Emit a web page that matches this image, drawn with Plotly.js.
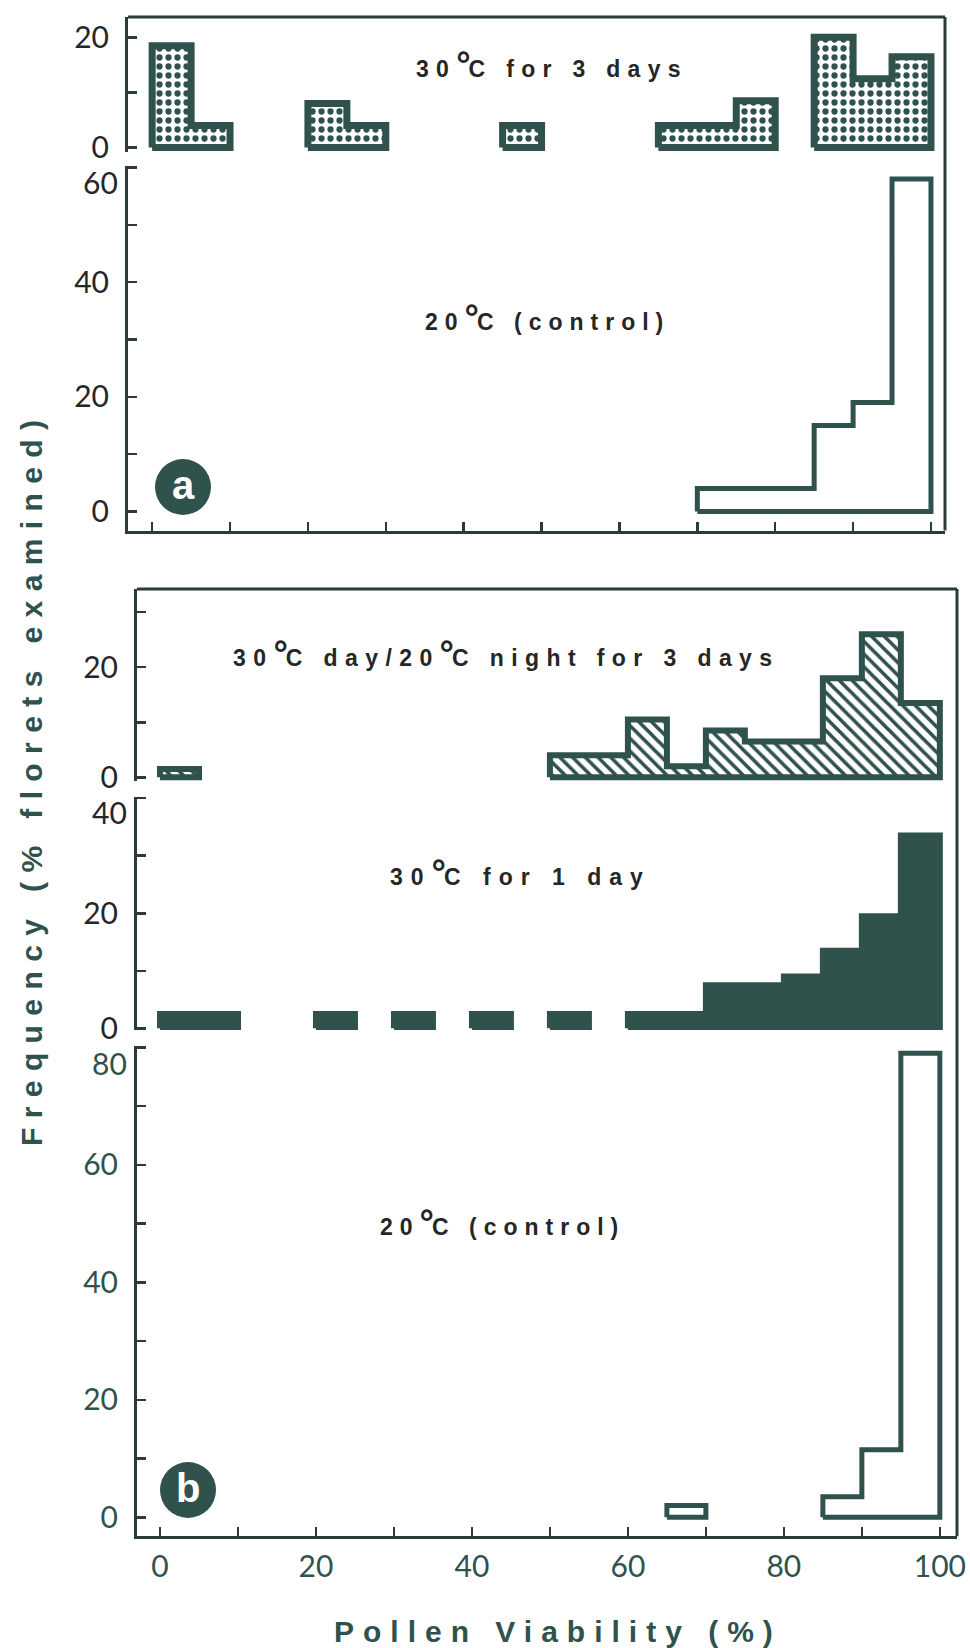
<!DOCTYPE html>
<html>
<head>
<meta charset="utf-8">
<script src="https://cdn.plot.ly/plotly-3.0.1.min.js"></script>
<style>
  html, body { margin: 0; padding: 0; background: #ffffff; }
  #chart { width: 970px; height: 1648px; }
</style>
</head>
<body>
<div id="chart"></div>
<script>
// ---------------- DATA (frequency, % florets examined, per 5% pollen-viability class) ----------------
const binStart = [0, 5, 10, 15, 20, 25, 30, 35, 40, 45, 50, 55, 60, 65, 70, 75, 80, 85, 90, 95];
const binWidth = 5;

// panel a
const heat30For3Days = [18.5, 4, null, null, 8, 4, null, null, null, 4, null, null, null, 4, 4, 8.5, null, 20, 12.5, 16.5];
const controlA20     = [null, null, null, null, null, null, null, null, null, null, null, null, null, null, 4, 4, 4, 15, 19, 58];

// panel b
const dayNight3Days  = [1.5, null, null, null, null, null, null, null, null, null, 4, 4, 10.5, 2, 8.5, 6.5, 6.5, 18, 26, 13.5];
const heat30For1Day  = [2.5, 2.5, null, null, 2.5, null, 2.5, null, 2.5, null, 2.5, null, 2.5, 2.5, 7.5, 7.5, 9, 13.5, 19.5, 33.5];
const controlB20     = [null, null, null, null, null, null, null, null, null, null, null, null, null, 2, null, null, null, 3.5, 11.5, 79];

// tick labels of each frequency axis (the top one of a stacked axis sits just under its tick)
const ticksA1 = [0, 20];
const ticksA2 = [0, 20, 40];      const topLabelA2 = '60';
const ticksB1 = [0, 20];
const ticksB2 = [0, 20];          const topLabelB2 = '40';
const ticksB3 = [0, 20, 40, 60];  const topLabelB3 = '80';
const ticksX  = [0, 20, 40, 60, 80, 100];

// labels
const panelLabels = ['a', 'b'];
const seriesLabels = {
  heatA: '30°C for 3 days',
  ctrlA: '20°C (control)',
  dayNight: '30°C day/20°C night for 3 days',
  heat1: '30°C for 1 day',
  ctrlB: '20°C (control)'
};
const xTitle = 'Pollen Viability (%)';
const yTitle = 'Frequency (% florets examined)';

// ---------------- STYLE ----------------
const W = 970, H = 1648;
const TEAL = '#2f524d';
const AX = '#2a3b38';
const DARK = '#262626';
const px = v => v / W;
const py = v => 1 - v / H;

// closed step outlines (one closed segment per run of occupied classes)
function stepOutline(values) {
  const xs = [], ys = [];
  let runStart = null;
  for (let i = 0; i <= values.length; i++) {
    const v = i < values.length ? values[i] : null;
    if (v !== null && v !== undefined) {
      const l = binStart[i], r = l + binWidth;
      if (runStart === null) { runStart = l; xs.push(l); ys.push(0); }
      xs.push(l, r); ys.push(v, v);
    } else if (runStart !== null) {
      const end = binStart[i - 1] + binWidth;
      xs.push(end, runStart, null); ys.push(0, 0, null);
      runStart = null;
    }
  }
  return { x: xs, y: ys };
}

function histTrace(values, xa, ya, opts) {
  const o = stepOutline(values);
  return Object.assign({
    type: 'scatter', mode: 'lines', x: o.x, y: o.y, xaxis: xa, yaxis: ya,
    fill: 'toself', hoverinfo: 'skip', connectgaps: false
  }, opts);
}

const traces = [
  histTrace(heat30For3Days, 'x', 'y', {
    fillcolor: 'white',
    fillpattern: { shape: '.', fgcolor: TEAL, bgcolor: 'white', size: 9, solidity: 0.38 },
    line: { color: TEAL, width: 7 }
  }),
  histTrace(controlA20, 'x', 'y2', {
    fillcolor: 'rgba(0,0,0,0)', line: { color: TEAL, width: 5 }
  }),
  histTrace(dayNight3Days, 'x2', 'y3', {
    fillcolor: 'white',
    fillpattern: { shape: '\\', fgcolor: TEAL, bgcolor: 'white', size: 9, solidity: 0.4 },
    line: { color: TEAL, width: 6 }
  }),
  histTrace(heat30For1Day, 'x2', 'y4', {
    fillcolor: TEAL, line: { color: TEAL, width: 6 }
  }),
  histTrace(controlB20, 'x2', 'y5', {
    fillcolor: 'rgba(0,0,0,0)', line: { color: TEAL, width: 5 }
  })
];

const baseAxis = {
  showline: true, linecolor: AX, linewidth: 3, zeroline: false, showgrid: false,
  ticks: 'inside', ticklen: 9, tickwidth: 2.5, tickcolor: AX, fixedrange: true
};
const minor10 = { dtick: 10, tick0: 0, ticks: 'inside', ticklen: 9, tickwidth: 2.5, tickcolor: AX };
const tickFontDark = { family: 'Lato, sans-serif', size: 30, color: DARK };
const tickFontTeal = { family: 'Lato, sans-serif', size: 30, color: TEAL };

function yAxis(top, bottom, range, anchor, vals, font) {
  return Object.assign({}, baseAxis, {
    domain: [py(bottom), py(top)], range: range, anchor: anchor,
    tickmode: 'array', tickvals: vals, ticktext: vals.map(String), minor: minor10,
    tickfont: font, ticklabelstandoff: 10
  });
}

function annot(text, cx, cy, spacing) {
  return {
    xref: 'paper', yref: 'paper', x: px(cx), y: py(cy), xanchor: 'center', yanchor: 'middle',
    showarrow: false,
    text: '<span style="letter-spacing:' + spacing + 'px">' +
          text.replace(/°/g, '<span style="font-size:36px;letter-spacing:-2px">°</span>') + '</span>',
    font: { family: 'Liberation Sans, Arial, sans-serif', size: 23, color: DARK, weight: 700 }
  };
}

function topTickLabel(text, axisX, cy, font) {
  return {
    xref: 'paper', yref: 'paper', x: px(axisX - 8), y: py(cy), xanchor: 'right', yanchor: 'middle',
    showarrow: false, text: text, font: font
  };
}

const layout = {
  width: W, height: H, autosize: false,
  margin: { l: 0, r: 0, t: 0, b: 0, pad: 0 },
  paper_bgcolor: '#ffffff', plot_bgcolor: 'rgba(0,0,0,0)',
  showlegend: false,
  xaxis: Object.assign({}, baseAxis, {
    domain: [px(128), px(945)], range: [-3.1, 101.8], anchor: 'y2',
    tickmode: 'linear', tick0: 0, dtick: 10, showticklabels: false
  }),
  xaxis2: Object.assign({}, baseAxis, {
    domain: [px(137), px(957)], range: [-2.95, 102.2], anchor: 'y5',
    tickmode: 'array', tickvals: ticksX, ticktext: ticksX.map(String), minor: minor10,
    tickfont: tickFontTeal, ticklabelstandoff: 2
  }),
  yaxis:  yAxis(17, 152, [-0.82, 23.7], 'x', ticksA1, tickFontDark),
  yaxis2: yAxis(166, 530.5, [-3.31, 60.26], 'x', ticksA2, tickFontDark),
  yaxis3: yAxis(589, 781, [-0.67, 34.2], 'x2', ticksB1, tickFontDark),
  yaxis4: yAxis(796.5, 1030, [-0.3, 40.3], 'x2', ticksB2, tickFontDark),
  yaxis5: yAxis(1045.5, 1536.3, [-3.23, 80.3], 'x2', ticksB3, tickFontTeal),
  shapes: [
    { type: 'line', xref: 'paper', yref: 'paper', x0: px(128), x1: px(945), y0: py(17), y1: py(17), line: { color: AX, width: 3 } },
    { type: 'line', xref: 'paper', yref: 'paper', x0: px(945), x1: px(945), y0: py(17), y1: py(530.5), line: { color: AX, width: 3 } },
    { type: 'line', xref: 'paper', yref: 'paper', x0: px(137), x1: px(957), y0: py(589), y1: py(589), line: { color: AX, width: 3 } },
    { type: 'line', xref: 'paper', yref: 'paper', x0: px(957), x1: px(957), y0: py(589), y1: py(1536.3), line: { color: AX, width: 3 } },
    { type: 'circle', xref: 'paper', yref: 'paper', x0: px(155), x1: px(211), y0: py(515), y1: py(459), fillcolor: TEAL, line: { width: 0 } },
    { type: 'circle', xref: 'paper', yref: 'paper', x0: px(160), x1: px(216), y0: py(1518), y1: py(1462), fillcolor: TEAL, line: { width: 0 } }
  ],
  annotations: [
    annot(seriesLabels.heatA, 552, 65, 7.3),
    annot(seriesLabels.ctrlA, 547, 318, 7.0),
    annot(seriesLabels.dayNight, 506, 653, 7.4),
    annot(seriesLabels.heat1, 520, 873, 8.0),
    annot(seriesLabels.ctrlB, 502, 1222, 7.0),
    topTickLabel(topLabelA2, 128, 182, tickFontDark),
    topTickLabel(topLabelB2, 137, 811.5, tickFontDark),
    topTickLabel(topLabelB3, 137, 1063, tickFontTeal),
    { xref: 'paper', yref: 'paper', x: px(183), y: py(485), showarrow: false, xanchor: 'center', yanchor: 'middle',
      text: panelLabels[0], font: { family: 'Liberation Sans, Arial, sans-serif', size: 40, color: '#ffffff', weight: 700 } },
    { xref: 'paper', yref: 'paper', x: px(188), y: py(1488), showarrow: false, xanchor: 'center', yanchor: 'middle',
      text: panelLabels[1], font: { family: 'Liberation Sans, Arial, sans-serif', size: 40, color: '#ffffff', weight: 700 } },
    { xref: 'paper', yref: 'paper', x: px(558), y: py(1631), showarrow: false, xanchor: 'center', yanchor: 'middle',
      text: '<span style="letter-spacing:9px">' + xTitle + '</span>',
      font: { family: 'Liberation Sans, Arial, sans-serif', size: 30, color: TEAL, weight: 700 } },
    { xref: 'paper', yref: 'paper', x: px(32), y: py(779), showarrow: false, xanchor: 'center', yanchor: 'middle',
      textangle: -90,
      text: '<span style="letter-spacing:9.4px">' + yTitle + '</span>',
      font: { family: 'Liberation Sans, Arial, sans-serif', size: 30, color: TEAL, weight: 700 } }
  ]
};

Plotly.newPlot('chart', traces, layout, { staticPlot: true, displayModeBar: false });
</script>
</body>
</html>
